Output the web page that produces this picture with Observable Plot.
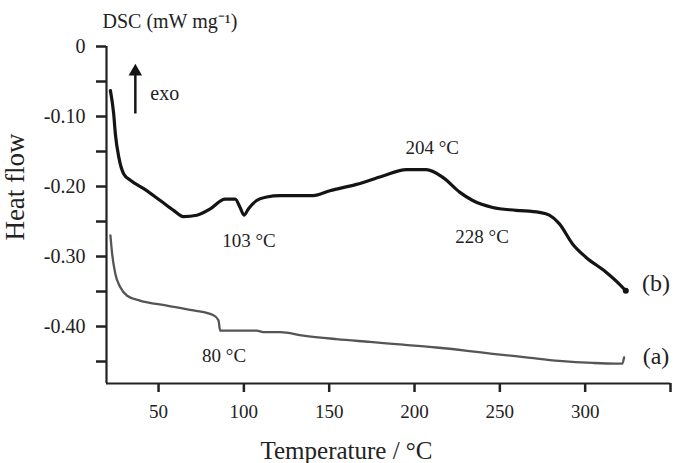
<!DOCTYPE html>
<html>
<head>
<meta charset="utf-8">
<script src="https://cdn.jsdelivr.net/npm/d3@7"></script>
<script src="https://cdn.jsdelivr.net/npm/@observablehq/plot@0.6"></script>
<style>
  body { margin: 0; background: #fff; }
  #chart svg { display: block; }
</style>
</head>
<body>
<div id="chart"></div>
<script>
// ---- Data ----
// Curve (b)
const bTemp = [21.8, 23.7, 24.7, 26.7, 29.6, 33.5, 41.3, 51.0, 58.8, 64.6, 72.5, 80.3, 89.0, 94.9, 97.8, 100.1, 102.6, 107.5, 113.4, 121.2, 140.6, 150.4, 166.0, 181.5, 195.2, 206.9, 216.6, 226.4, 234.1, 245.8, 259.5, 273.1, 279.0, 284.8, 292.6, 300.4, 312.1, 319.9, 323.8];
const bHeat = [-0.063, -0.096, -0.125, -0.158, -0.182, -0.191, -0.203, -0.220, -0.234, -0.243, -0.241, -0.232, -0.218, -0.218, -0.230, -0.241, -0.232, -0.220, -0.215, -0.213, -0.213, -0.206, -0.197, -0.185, -0.176, -0.176, -0.187, -0.208, -0.220, -0.230, -0.234, -0.237, -0.241, -0.253, -0.282, -0.301, -0.322, -0.339, -0.349];
// Curve (a)
const aTemp = [21.8, 22.8, 24.7, 27.6, 31.6, 39.1, 54.9, 70.5, 82.2, 85.1, 86.1, 97.8, 107.5, 111.4, 121.2, 134.8, 154.3, 173.8, 193.2, 212.7, 232.2, 245.8, 265.3, 284.8, 304.3, 317.9, 321.8, 322.8];
const aHeat = [-0.270, -0.296, -0.325, -0.344, -0.356, -0.363, -0.370, -0.377, -0.384, -0.391, -0.406, -0.406, -0.406, -0.408, -0.408, -0.413, -0.418, -0.422, -0.426, -0.430, -0.435, -0.439, -0.444, -0.449, -0.452, -0.453, -0.453, -0.444];

// Axes
const xDomain = [19.5, 350];
const yDomain = [-0.4814, 0];
const xTicks = [50, 100, 150, 200, 250, 300, 350];
const xTickLabels = ["50", "100", "150", "200", "250", "300", ""];
const yTicks = [0, -0.05, -0.1, -0.15, -0.2, -0.25, -0.3, -0.35, -0.4, -0.45];
const yLabelTicks = [0, -0.1, -0.2, -0.3, -0.4];
const yTickLabels = ["0", "-0.10", "-0.20", "-0.30", "-0.40"];

// Annotations
const peakLabels = ["204 °C", "103 °C", "228 °C", "80 °C"];
const peakTemp = [210.4, 103.0, 239.6, 88.4];
const peakHeat = [-0.153, -0.287, -0.280, -0.450];
const seriesLabels = ["(b)", "(a)"];
const seriesLabelTemp = [341.5, 341.5];
const seriesLabelHeat = [-0.3486, -0.4529];
const exoLabel = "exo";
const exoTemp = 45.2, exoHeat = -0.0771;
const exoArrowTemp = 36.4, exoArrowFrom = -0.0957, exoArrowTo = -0.0357;

const xTitle = "Temperature / °C";
const yTitle = "Heat flow";
const unitTitle = "DSC (mW mg⁻¹)";

// ---- Build tables ----
const curveB = bTemp.map((t, i) => ({t, h: bHeat[i]}));
const curveA = aTemp.map((t, i) => ({t, h: aHeat[i]}));
const peaks = peakLabels.map((s, i) => ({s, t: peakTemp[i], h: peakHeat[i]}));
const series = seriesLabels.map((s, i) => ({s, t: seriesLabelTemp[i], h: seriesLabelHeat[i]}));

const ink = "#222";
const font = "Liberation Serif";

const chart = Plot.plot({
  width: 678,
  height: 463,
  marginLeft: 106,
  marginRight: 8,
  marginTop: 46,
  marginBottom: 80,
  x: {domain: xDomain},
  y: {domain: yDomain},
  style: {fontFamily: font, fontSize: "19px", color: ink, background: "#fff"},
  marks: [
    // axis lines
    Plot.ruleX([xDomain[0]], {stroke: ink, strokeWidth: 2.2}),
    Plot.ruleY([yDomain[0]], {stroke: ink, strokeWidth: 2.2}),
    // y ticks (all) and labels
    Plot.axisY(yTicks, {anchor: "left", tickSize: 10, tickFormat: () => "", stroke: ink, strokeWidth: 2.5, label: null}),
    Plot.axisY(yLabelTicks, {anchor: "left", tickSize: 0, tickPadding: 21, tickFormat: d => yTickLabels[yLabelTicks.indexOf(d)], fontSize: 20, fill: ink, label: null}),
    // x ticks and labels
    Plot.axisX(xTicks, {anchor: "bottom", tickSize: 9, tickPadding: 12, tickFormat: d => xTickLabels[xTicks.indexOf(d)], stroke: ink, strokeWidth: 2.5, fontSize: 19, fill: ink, label: null}),
    // curves
    Plot.line(curveA, {x: "t", y: "h", curve: "monotone-x", stroke: "#555", strokeWidth: 2.3, strokeLinejoin: "round"}),
    Plot.line(curveB, {x: "t", y: "h", curve: "monotone-x", stroke: "#141414", strokeWidth: 3.2, strokeLinejoin: "round"}),
    Plot.dot(curveB.slice(-1), {x: "t", y: "h", r: 3, fill: "#141414", stroke: null}),
    // exo arrow
    Plot.link([{t: exoArrowTemp, y1: exoArrowFrom, y2: exoArrowTo}], {x1: "t", x2: "t", y1: "y1", y2: "y2", stroke: "#141414", strokeWidth: 2.5}),
    Plot.dot([{t: exoArrowTemp, h: exoArrowTo}], {x: "t", y: "h", symbol: "triangle", r: 5, fill: "#141414", stroke: null}),
    Plot.text([exoLabel], {x: exoTemp, y: exoHeat, text: d => d, textAnchor: "start", lineAnchor: "bottom", fontSize: 20, fill: ink}),
    // annotations
    Plot.text(peaks, {x: "t", y: "h", text: "s", textAnchor: "middle", lineAnchor: "bottom", fontSize: 19, fill: ink}),
    Plot.text(series, {x: "t", y: "h", text: "s", textAnchor: "middle", lineAnchor: "bottom", fontSize: 24, fill: ink}),
    // titles
    Plot.text([xTitle], {frameAnchor: "bottom", dx: -42, dy: 75, text: d => d, textAnchor: "middle", lineAnchor: "bottom", fontSize: 25, fill: ink}),
    Plot.text([yTitle], {frameAnchor: "left", rotate: -90, dx: -91, dy: -28, text: d => d, textAnchor: "middle", lineAnchor: "middle", fontSize: 27, fill: ink}),
    Plot.text([unitTitle], {frameAnchor: "top-left", dx: -4, dy: -19, text: d => d, textAnchor: "start", lineAnchor: "bottom", fontSize: 20, fill: ink})
  ]
});
document.getElementById("chart").appendChild(chart);
</script>
</body>
</html>
